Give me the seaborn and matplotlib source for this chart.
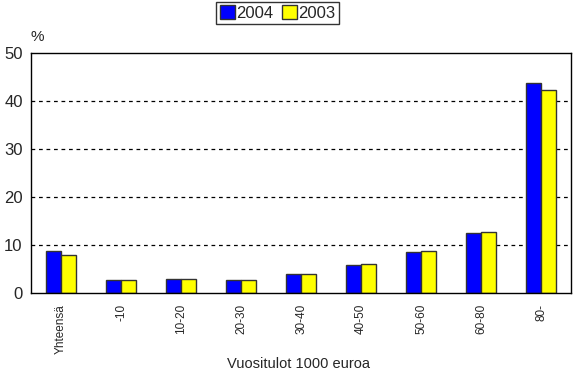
import matplotlib
matplotlib.use("Agg")
import matplotlib.pyplot as plt
import seaborn as sns
import pandas as pd

categories = ["Yhteensä", "-10", "10-20", "20-30", "30-40", "40-50", "50-60", "60-80", "80-"]
values_2004 = [8.8, 2.7, 2.9, 2.7, 4.0, 5.9, 8.6, 12.6, 43.7]
values_2003 = [8.0, 2.7, 2.9, 2.7, 4.0, 6.1, 8.8, 12.8, 42.4]
series = ["2004", "2003"]
colors = ["#0000FF", "#FFFF00"]

df = pd.DataFrame({
    "cat": categories * 2,
    "val": values_2004 + values_2003,
    "year": [series[0]] * len(categories) + [series[1]] * len(categories),
})

sns.set_theme(style="white")
plt.rcParams["font.family"] = ["Liberation Sans", "DejaVu Sans"]

fig = plt.figure(figsize=(5.74, 3.77), dpi=100)
ax = fig.add_axes([0.054, 0.223, 0.941, 0.636])

sns.barplot(data=df, x="cat", y="val", hue="year", hue_order=series,
            palette=colors, width=0.5, edgecolor="#333333", linewidth=1.0,
            saturation=1, ax=ax, legend=True)

ax.set_ylim(0, 50)
ax.set_yticks([0, 10, 20, 30, 40, 50])
ax.set_xlim(-0.5, len(categories) - 0.5)
for y in [10, 20, 30, 40]:
    ax.axhline(y, color="black", linestyle=(0, (3, 3)), linewidth=0.9, zorder=0)
for s in ax.spines.values():
    s.set_color("black")
    s.set_linewidth(1.0)
ax.tick_params(axis="y", labelsize=12, length=0, pad=6)
ax.tick_params(axis="x", labelsize=8.5, length=0, rotation=90, pad=8)
ax.set_xlabel("")
ax.set_ylabel("")
fig.text(0.52, 0.035, "Vuositulot 1000 euroa", fontsize=10.5, ha="center", va="center")
ax.text(0.0, 1.04, "%", transform=ax.transAxes, fontsize=11, ha="left", va="bottom")

handles, labels = ax.get_legend_handles_labels()
ax.get_legend().remove()
leg = fig.legend(handles, labels, loc="center", bbox_to_anchor=(0.4835, 0.966), ncol=2,
                 frameon=True, fontsize=12, handlelength=0.9, handleheight=0.9,
                 handletextpad=0.1, columnspacing=0.5, borderpad=0.2, fancybox=False)
leg.get_frame().set_edgecolor("black")
leg.get_frame().set_linewidth(1.0)

fig.savefig("out.png", dpi=100)
